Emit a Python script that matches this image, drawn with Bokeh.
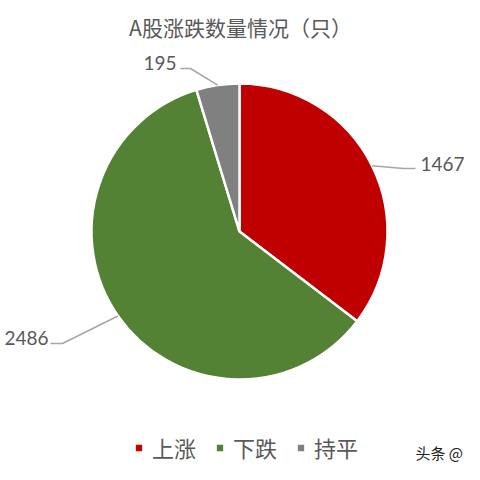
import math
from bokeh.plotting import figure
from bokeh.models import Range1d, Legend, LegendItem
from bokeh.core.properties import value
from bokeh.embed import file_html
from bokeh.resources import INLINE

# ---- data ----
title_text = "A股涨跌数量情况（只）"
categories = ["上涨", "下跌", "持平"]
counts = [1467, 2486, 195]
colors = ["#C00000", "#548235", "#808080"]
watermark = "头条 @"

# ---- layout (pixel space, y measured from top) ----
W = 464
CX, CY, R = 239, 231, 148
label_layout = [
    dict(elbow=(403, 168), end=(415, 168), text=(420, 163), align="left"),
    dict(elbow=(62, 343), end=(50, 343), text=(48, 337), align="right"),
    dict(elbow=(190, 68), end=(180, 68), text=(176, 62), align="right"),
]

def fy(y):
    return W - y

p = figure(width=W, height=W, x_range=Range1d(0, W), y_range=Range1d(0, W),
           output_backend="svg", toolbar_location=None, min_border=0,
           x_axis_type=None, y_axis_type=None)
p.grid.visible = False
p.outline_line_color = None
p.background_fill_color = "white"

txt_color = "#595959"
lbl_font = value("Lato")
cjk_font = value("Noto Sans CJK SC")

# title
p.text(x=[240], y=[fy(26)], text=[title_text], text_font=cjk_font,
       text_font_size="21px", text_color=txt_color, text_align="center",
       text_baseline="middle")

total = float(sum(counts))
start = math.pi / 2
items = []
for i, (cat, n, c) in enumerate(zip(categories, counts, colors)):
    sweep = 2 * math.pi * n / total
    end = start - sweep
    r = p.wedge(x=[CX], y=[fy(CY)], radius=R, start_angle=[end], end_angle=[start],
                fill_color=c, line_color="white", line_width=2.5)
    items.append(LegendItem(label=cat, renderers=[r]))
    mid = start - sweep / 2
    ex = CX + R * math.cos(mid)
    ey = fy(CY) + R * math.sin(mid)
    lay = label_layout[i]
    p.line(x=[ex, lay["elbow"][0], lay["end"][0]],
           y=[ey, fy(lay["elbow"][1]), fy(lay["end"][1])],
           line_color="#A6A6A6", line_width=1.5)
    p.text(x=[lay["text"][0]], y=[fy(lay["text"][1])], text=[str(n)],
           text_font=lbl_font, text_font_size="19px", text_color=txt_color,
           text_align=lay["align"], text_baseline="middle")
    start = end

legend = Legend(items=items, orientation="horizontal", location=(133, 1),
                glyph_width=11, glyph_height=11, label_standoff=8, spacing=18,
                padding=0, margin=0, border_line_alpha=0, background_fill_alpha=0,
                label_text_font="Noto Sans CJK SC", label_text_font_size="22px",
                label_text_color=txt_color)
p.add_layout(legend)

# watermark
p.text(x=[415], y=[fy(452)], text=[watermark], text_font=cjk_font,
       text_font_size="15px", text_color="#222222", text_align="left",
       text_baseline="middle")

open("out.html", "w").write(file_html(p, INLINE))
